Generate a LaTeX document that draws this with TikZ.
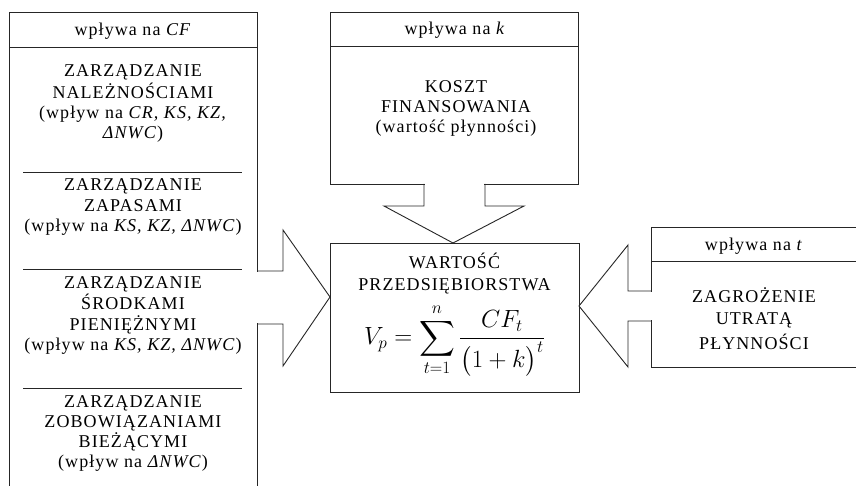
\documentclass[tikz,border=0pt]{standalone}
\usepackage{amsmath}
\usepackage{fontspec}
\setmainfont{Liberation Serif}
\newfontfamily\bodyfont[LetterSpace=6]{Liberation Serif}
\usetikzlibrary{calc}
\newcommand\blk[1]{\begin{tabular}[t]{@{}c@{}}#1\end{tabular}}
\tikzset{
  ln/.style={line width=0.9pt, draw=black!85},
  box/.style={ln, draw, inner sep=0pt, outer sep=0pt, anchor=north west},
  txt/.style={anchor=base, inner sep=0pt, font=\bodyfont\fontsize{18}{20}\selectfont},
}
\begin{document}
\begin{tikzpicture}[x=1pt,y=-1pt]
\useasboundingbox (0,0) rectangle (856,486);
\clip (0,0) rectangle (856,486);
\fill[white] (0,0) rectangle (856,486);
% boxes
\node[box, minimum width=248pt, minimum height=520pt] (L) at (9,12) {};
\node[box, minimum width=248pt, minimum height=172pt] (K) at (330,12) {};
\node[box, minimum width=249pt, minimum height=149pt] (V) at (330,243) {};
\node[box, minimum width=220pt, minimum height=140pt] (R) at (651,227) {};
% header lines
\draw[ln] (L.west |- 0,47) -- (L.east |- 0,47);
\draw[ln] (K.west |- 0,46) -- (K.east |- 0,46);
\draw[ln] (R.west |- 0,261) -- (R.east |- 0,261);
% separators
\draw[ln] (23,172) -- (242,172);
\draw[ln] (23,269) -- (242,269);
\draw[ln] (23,388) -- (242,388);
% left arrow
\fill[white] ($(L.east |- 0,271)+(-1.5,0.6)$) rectangle (282,323.4);
\draw[ln, line join=miter] (L.east |- 0,271) -- (283,271) -- (283,230) -- (V.west |- 0,297) -- (283,366) -- (283,324) -- (L.east |- 0,324);
% top arrow
\fill[white] ($(K.south -| 424,0)+(0.6,-1)$) rectangle (484.4,190);
\draw[ln, line join=miter] (K.south -| 424,0) -- (424,206) -- (384,206) -- (V.north -| 453,0) -- (524,206) -- (485,206) -- (K.south -| 485,0);
% right arrow
\fill[white] ($(R.west |- 0,291)+(1.5,0.6)$) rectangle (640,320.4);
\draw[ln, line join=miter] (R.west |- 0,291) -- (628,291) -- (628,245) -- (V.east |- 0,306) -- (628,367) -- (628,321) -- (R.west |- 0,321);
% texts
\node[txt] (Lh) at (133,36) {wpływa na \textit{CF}};
\node[txt] (L1) at (133,77) {\blk{ZARZĄDZANIE\\NALEŻNOŚCIAMI\\(wpływ na \textit{CR, KS, KZ,}\\\textit{ΔNWC})}};
\node[txt] (L2) at (133,191) {\blk{ZARZĄDZANIE\\[0.5pt]ZAPASAMI\\[0.5pt](wpływ na \textit{KS, KZ, ΔNWC})}};
\node[txt] (L3) at (133,288) {\blk{ZARZĄDZANIE\\ŚRODKAMI\\PIENIĘŻNYMI\\(wpływ na \textit{KS, KZ, ΔNWC})}};
\node[txt] (L4) at (133,407) {\blk{ZARZĄDZANIE\\ZOBOWIĄZANIAMI\\BIEŻĄCYMI\\(wpływ na \textit{ΔNWC})}};
\node[txt] (Kh) at (455,35) {wpływa na \textit{k}};
\node[txt] (K1) at (456,93) {\blk{KOSZT\\FINANSOWANIA\\(wartość płynności)}};
\node[txt] (V1) at (454.5,269) {\blk{WARTOŚĆ\\[2pt]PRZEDSIĘBIORSTWA}};
\node[inner sep=0pt, font=\fontsize{23}{27}\selectfont] (Vf) at (454.5,340) {$\displaystyle V_p=\sum_{t=1}^{n}\frac{CF_t}{\bigl(1+k\bigr)^t}$};
\node[txt] (Rh) at (754,251) {wpływa na \textit{t}};
\node[txt] (R1) at (754,302) {\blk{ZAGROŻENIE\\[2pt]UTRATĄ\\[4pt]PŁYNNOŚCI}};
\end{tikzpicture}
\end{document}
